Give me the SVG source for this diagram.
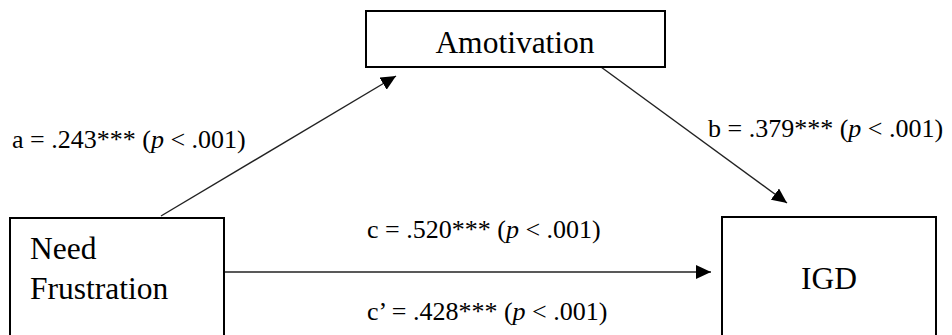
<svg xmlns="http://www.w3.org/2000/svg" width="952" height="335" viewBox="0 0 952 335">
<style>
.box{fill:#fff;stroke:#000;stroke-width:2}
.big{font-size:31.5px}
.lab{font-size:26px}
.edge{stroke:#222;stroke-width:1.4;fill:none}
</style>
<defs>
<marker id="ah" markerUnits="userSpaceOnUse" markerWidth="16" markerHeight="14" refX="15" refY="7" orient="auto">
<path d="M0,0 L15,7 L0,14 Z" fill="#000"/>
</marker>
</defs>
<rect width="952" height="335" fill="#fff"/>
<g font-family="Liberation Serif, DejaVu Serif, serif" fill="#000">
<g id="connectors">
<line class="edge" x1="161" y1="216" x2="396" y2="76" marker-end="url(#ah)"/>
<line class="edge" x1="601" y1="67" x2="787" y2="203" marker-end="url(#ah)"/>
<line class="edge" x1="224" y1="272" x2="711" y2="272" marker-end="url(#ah)"/>
<text class="lab" x="12" y="148">a = .243*** (<tspan font-style="italic">p</tspan> &lt; .001)</text>
<text class="lab" x="708" y="137">b = .379*** (<tspan font-style="italic">p</tspan> &lt; .001)</text>
<text class="lab" x="367" y="238">c = .520*** (<tspan font-style="italic">p</tspan> &lt; .001)</text>
<text class="lab" x="367" y="320">c’ = .428*** (<tspan font-style="italic">p</tspan> &lt; .001)</text>
</g>
<g id="amotivation">
<rect class="box" x="366" y="11" width="299" height="56"/>
<text class="big" x="515" y="53" text-anchor="middle">Amotivation</text>
</g>
<g id="need-frustration">
<rect class="box" x="10" y="218" width="214" height="130"/>
<text class="big" x="30" y="259">Need</text>
<text class="big" x="30" y="299">Frustration</text>
</g>
<g id="igd">
<rect class="box" x="722" y="217" width="214" height="130"/>
<text class="big" x="829" y="289" text-anchor="middle">IGD</text>
</g>
</g>
</svg>
